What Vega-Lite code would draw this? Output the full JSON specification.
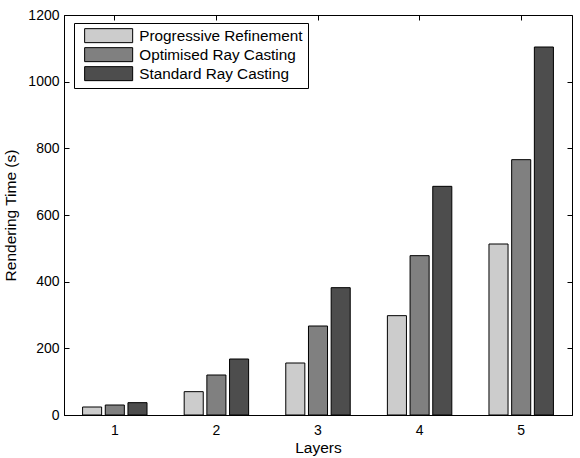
{
  "$schema": "https://vega.github.io/schema/vega-lite/v6.json",
  "width": 508,
  "height": 400,
  "autosize": {"type": "none"},
  "padding": {"left": 64, "top": 15, "right": 8, "bottom": 43},
  "background": "white",
  "config": {
    "font": "Liberation Sans",
    "view": {"stroke": "black", "strokeWidth": 1},
    "axis": {
      "domainColor": "black",
      "tickColor": "black",
      "labelColor": "black",
      "titleColor": "black",
      "grid": false,
      "labelFont": "Liberation Sans",
      "titleFont": "Liberation Sans",
      "labelFontSize": 14,
      "titleFontSize": 15.5,
      "titleFontWeight": "normal",
      "tickSize": -5
    }
  },
  "data": {
    "values": [
      {"Layer": "1", "Method": "Progressive Refinement", "Time": 24},
      {"Layer": "1", "Method": "Optimised Ray Casting", "Time": 30},
      {"Layer": "1", "Method": "Standard Ray Casting", "Time": 37},
      {"Layer": "2", "Method": "Progressive Refinement", "Time": 70},
      {"Layer": "2", "Method": "Optimised Ray Casting", "Time": 120},
      {"Layer": "2", "Method": "Standard Ray Casting", "Time": 168},
      {"Layer": "3", "Method": "Progressive Refinement", "Time": 156},
      {"Layer": "3", "Method": "Optimised Ray Casting", "Time": 267},
      {"Layer": "3", "Method": "Standard Ray Casting", "Time": 382},
      {"Layer": "4", "Method": "Progressive Refinement", "Time": 298},
      {"Layer": "4", "Method": "Optimised Ray Casting", "Time": 478},
      {"Layer": "4", "Method": "Standard Ray Casting", "Time": 686},
      {"Layer": "5", "Method": "Progressive Refinement", "Time": 513},
      {"Layer": "5", "Method": "Optimised Ray Casting", "Time": 766},
      {"Layer": "5", "Method": "Standard Ray Casting", "Time": 1104}
    ]
  },
  "layer": [
    {
      "mark": {"type": "bar", "stroke": "black", "strokeWidth": 1},
      "encoding": {
        "x": {
          "field": "Layer",
          "type": "nominal",
          "scale": {"paddingInner": 0.33, "paddingOuter": 0.165},
          "axis": {
            "orient": "bottom",
            "title": "Layers",
            "labelAngle": 0,
            "bandPosition": 0.5,
            "labelPadding": 13,
            "titlePadding": 3
          }
        },
        "xOffset": {
          "field": "Method",
          "type": "nominal",
          "sort": ["Progressive Refinement", "Optimised Ray Casting", "Standard Ray Casting"],
          "scale": {"paddingInner": 0.16, "paddingOuter": 0.08}
        },
        "y": {
          "field": "Time",
          "type": "quantitative",
          "scale": {"domain": [0, 1200], "nice": false},
          "axis": {
            "orient": "left",
            "title": "Rendering Time (s)",
            "format": "d",
            "values": [0, 200, 400, 600, 800, 1000, 1200],
            "labelPadding": 10,
            "titlePadding": 9
          }
        },
        "color": {
          "field": "Method",
          "type": "nominal",
          "scale": {
            "domain": ["Progressive Refinement", "Optimised Ray Casting", "Standard Ray Casting"],
            "range": ["#cccccc", "#808080", "#4d4d4d"]
          },
          "legend": {
            "title": null,
            "orient": "none",
            "legendX": 10,
            "legendY": 8,
            "strokeColor": "black",
            "fillColor": "white",
            "padding": 5,
            "symbolType": "M-3.43,-1H3.43V1H-3.43Z",
            "symbolSize": 196,
            "symbolStrokeColor": "black",
            "symbolStrokeWidth": 1,
            "symbolOpacity": 1,
            "symbolOffset": 22,
            "labelOffset": 23,
            "labelFont": "Liberation Sans",
            "labelFontSize": 15.3,
            "labelColor": "black",
            "labelLimit": 400,
            "rowPadding": 0
          }
        }
      }
    },
    {
      "mark": {"type": "bar", "opacity": 0},
      "encoding": {
        "x": {
          "field": "Layer",
          "type": "nominal",
          "axis": {
            "orient": "top",
            "title": null,
            "labels": false,
            "domain": false,
            "bandPosition": 0.5
          }
        },
        "y": {
          "field": "Time",
          "type": "quantitative",
          "axis": {
            "orient": "right",
            "title": null,
            "labels": false,
            "domain": false,
            "values": [0, 200, 400, 600, 800, 1000, 1200]
          }
        }
      }
    }
  ],
  "resolve": {"axis": {"x": "independent", "y": "independent"}}
}
